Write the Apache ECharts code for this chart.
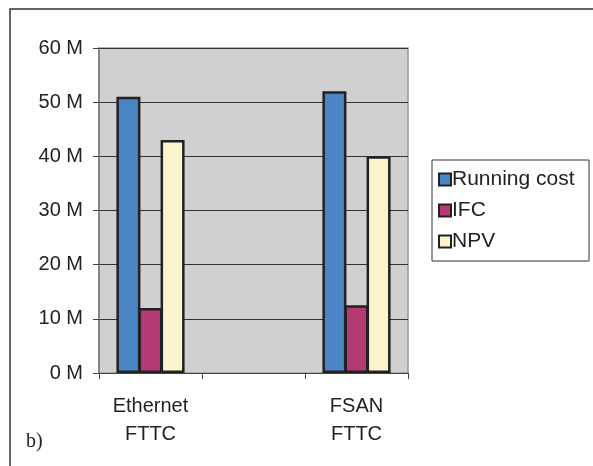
<!DOCTYPE html>
<html><head><meta charset="utf-8">
<script src="https://cdn.jsdelivr.net/npm/echarts@6/dist/echarts.min.js"></script>
<style>html,body{margin:0;padding:0;background:#fff}#c{width:593px;height:466px}</style>
</head><body><div id="c"></div>
<script>
const categories = ['Ethernet\nFTTC', '', 'FSAN\nFTTC'];
const seriesNames = ['Running cost', 'IFC', 'NPV'];
const runningCost = [51, null, 52];
const ifc = [12, null, 12.5];
const npv = [43, null, 40];
const colors = ['#4A86C6', '#B53A73', '#FAF3CC'];
const yTicks = { min: 0, max: 60, interval: 10 };

const chart = echarts.init(document.getElementById('c'), null, { renderer: 'canvas' });
const font = '"Liberation Sans", Arial, sans-serif';
const values = [runningCost, ifc, npv];
chart.setOption({
  animation: false,
  backgroundColor: '#fff',
  textStyle: { fontFamily: font },
  grid: { left: 99, right: 185, top: 48, bottom: 93, show: true, backgroundColor: '#D0D0D0', borderColor: '#999', borderWidth: 1.5 },
  xAxis: {
    type: 'category', data: categories,
    axisLine: { lineStyle: { color: '#444', width: 1 } },
    axisTick: { show: true, length: 6, lineStyle: { color: '#444' } },
    axisLabel: { color: '#222', fontSize: 20, fontFamily: font, margin: 19, lineHeight: 28 },
    splitLine: { show: false }
  },
  yAxis: {
    type: 'value', min: yTicks.min, max: yTicks.max, interval: yTicks.interval,
    axisLine: { show: true, lineStyle: { color: '#777', width: 1.5 } },
    axisTick: { show: true, length: 6, lineStyle: { color: '#444' } },
    axisLabel: { color: '#222', fontSize: 20, fontFamily: font, margin: 16, formatter: '{value} M' },
    splitLine: { show: true, lineStyle: { color: '#333', width: 1 } }
  },
  legend: {
    orient: 'vertical', left: 433, top: 164,
    itemWidth: 12, itemHeight: 12, itemGap: 10,
    icon: 'rect',
    textStyle: { fontSize: 21, color: '#222', fontFamily: font, padding: [0, 0, 0, -4] },
    data: seriesNames
  },
  graphic: [
    { type: 'rect', shape: { x: 10, y: 9, width: 700, height: 600 }, style: { fill: 'none', stroke: '#333', lineWidth: 1.5 }, silent: true },
    { type: 'rect', shape: { x: 432, y: 160, width: 157, height: 101 }, style: { fill: 'none', stroke: '#333', lineWidth: 1 }, silent: true },
    { type: 'text', left: 26, top: 432, style: { text: 'b)', font: '20px "Liberation Serif", "Times New Roman", serif', fill: '#222' } }
  ],
  series: seriesNames.map((n, i) => ({
    name: n, type: 'bar', data: values[i], barWidth: 24, barGap: '-8%',
    itemStyle: { color: colors[i], borderColor: '#222', borderWidth: 2.5 }
  }))
});
</script></body></html>
